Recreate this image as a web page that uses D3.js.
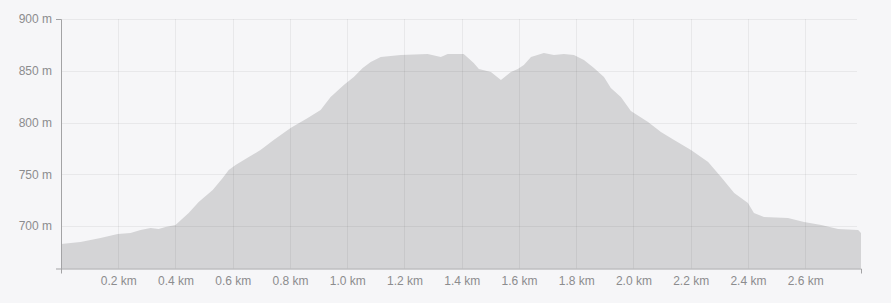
<!DOCTYPE html>
<html>

<head>
    <meta charset="utf-8">
    <style>
        body {
            margin: 0;
            background: #f6f6f8;
        }

        svg {
            display: block;
            font-family: Inter, 'Noto Sans', sans-serif;
        }

        .axis text {
            fill: #8c8c8e;
            font-size: 12px;
        }

        .axis path {
            stroke: #a3a3a5;
        }
    </style>
</head>

<body>
    <svg width="891" height="303"></svg>

    <script src="https://d3js.org/d3.v7.min.js"></script>
    <script>
        // profile: distance in km, elevation in m
        let distKm = [0.00, 0.068, 0.138, 0.198, 0.243, 0.278, 0.313, 0.341, 0.365, 0.400,
            0.446, 0.481, 0.530, 0.565, 0.586, 0.610, 0.656, 0.697, 0.743, 0.802,
            0.862, 0.907, 0.942, 0.988, 1.023, 1.054, 1.082, 1.117, 1.187, 1.281,
            1.327, 1.351, 1.407, 1.442, 1.460, 1.502, 1.537, 1.572, 1.596, 1.617,
            1.642, 1.687, 1.722, 1.757, 1.792, 1.827, 1.862, 1.897, 1.921, 1.956,
            1.991, 2.051, 2.096, 2.142, 2.201, 2.261, 2.306, 2.352, 2.400, 2.421,
            2.456, 2.540, 2.596, 2.656, 2.715, 2.785, 2.795]

        let elevM = [682.6, 684.5, 688.4, 692.3, 693.2, 696.1, 698.1, 697.1, 699.0, 701.0,
            712.6, 723.2, 734.8, 746.4, 754.1, 758.9, 766.7, 773.4, 783.1, 794.7,
            804.3, 812.1, 824.6, 836.2, 844.0, 852.7, 858.5, 863.3, 865.2, 866.2,
            863.3, 866.2, 866.2, 857.5, 851.7, 848.8, 841.1, 848.8, 851.7, 855.6,
            863.3, 867.1, 865.2, 866.2, 865.2, 860.4, 852.7, 844.0, 833.3, 824.6,
            811.1, 800.5, 790.8, 783.1, 773.4, 761.8, 747.3, 731.9, 722.2, 712.6,
            708.7, 707.7, 703.9, 701.0, 697.1, 696.1, 693.2]

        let xTicks = [0.2, 0.4, 0.6, 0.8, 1.0, 1.2, 1.4, 1.6, 1.8, 2.0, 2.2, 2.4, 2.6]
        let yTicks = [700, 750, 800, 850, 900]

        let data = distKm.map((d, i) => ({ d: d, e: elevM[i] }))

        let margin = { top: 19, right: 30, bottom: 34.5, left: 61 }
        let width = 891
        let height = 303

        let svg = d3.select("svg")

        let x = d3.scaleLinear()
            .domain([0, 2.795])
            .range([margin.left, width - margin.right])

        let y = d3.scaleLinear()
            .domain([659, 900])
            .range([height - margin.bottom, margin.top])

        // area
        let area = d3.area()
            .x(d => x(d.d))
            .y0(y(659))
            .y1(d => y(d.e))

        svg.append("path")
            .datum(data)
            .attr("d", area)
            .style("fill", "#d4d4d6")

        // grid on top, faint
        let grid = svg.append("g")
            .style("stroke", "rgba(0,0,0,0.055)")
            .style("stroke-width", 1)

        grid.selectAll(".vg")
            .data(xTicks)
            .join("line")
            .attr("x1", d => Math.round(x(d)) + 0.5)
            .attr("x2", d => Math.round(x(d)) + 0.5)
            .attr("y1", y(900))
            .attr("y2", y(659))

        grid.selectAll(".hg")
            .data(yTicks)
            .join("line")
            .attr("x1", margin.left)
            .attr("x2", width - margin.right - 4)
            .attr("y1", d => Math.round(y(d)) + 0.5)
            .attr("y2", d => Math.round(y(d)) + 0.5)

        // axes
        svg.append("g")
            .attr("class", "axis")
            .attr("transform", "translate(0," + (height - margin.bottom) + ")")
            .call(d3.axisBottom(x)
                .tickValues(xTicks)
                .tickFormat(d => d3.format(".1f")(d) + " km")
                .tickSizeInner(0)
                .tickSizeOuter(5)
                .tickPadding(8))
            .call(g => g.selectAll("text").style("font-size", "12px"))

        svg.append("g")
            .attr("class", "axis")
            .attr("transform", "translate(" + margin.left + ",0)")
            .call(d3.axisLeft(y)
                .tickValues(yTicks)
                .tickFormat(d => d + " m")
                .tickSizeInner(0)
                .tickSizeOuter(5)
                .tickPadding(9))

        svg.selectAll(".axis .domain").style("stroke", "#a3a3a5")
    </script>
</body>

</html>
